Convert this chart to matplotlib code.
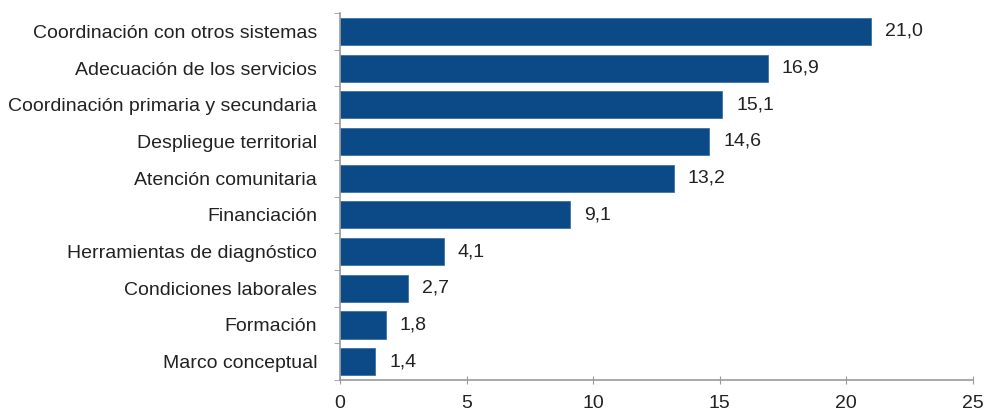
import matplotlib.pyplot as plt

plt.rcParams['font.family'] = ['Liberation Sans', 'DejaVu Sans']

categorias = ["Coordinación con otros sistemas", "Adecuación de los servicios",
              "Coordinación primaria y secundaria", "Despliegue territorial",
              "Atención comunitaria", "Financiación", "Herramientas de diagnóstico",
              "Condiciones laborales", "Formación", "Marco conceptual"]
valores = [21.0, 16.9, 15.1, 14.6, 13.2, 9.1, 4.1, 2.7, 1.8, 1.4]
xticks = [0, 5, 10, 15, 20, 25]

fig = plt.figure(figsize=(9.84, 4.09), dpi=100)
ax = fig.add_axes([0.3455, 0.071, 0.643, 0.897])

pos = list(range(len(categorias)))[::-1]
ax.barh(pos, valores, height=0.74, color='#0b4a86', edgecolor='#3a72a8', linewidth=0.6)

for p, v in zip(pos, valores):
    ax.text(v + 0.55, p, f"{v:.1f}".replace('.', ','), va='center', ha='left',
            fontsize=14, color='#222222')

ax.set_ylim(-0.5, len(categorias) - 0.5)
ax.set_xlim(0, 25)
ax.set_yticks(pos)
ax.set_yticklabels(categorias, fontsize=14, color='#222222')
ax.set_yticks([i - 0.5 for i in range(len(categorias) + 1)], minor=True)
ax.tick_params(axis='y', which='major', length=0, pad=16.5)
ax.tick_params(axis='y', which='minor', length=4, color='#999999')
ax.set_xticks(xticks)
ax.set_xticklabels([str(t) for t in xticks], fontsize=14, color='#222222')
ax.tick_params(axis='x', direction='inout', length=6, color='#999999', pad=8)

for s in ['top', 'right']:
    ax.spines[s].set_visible(False)
for s in ['left', 'bottom']:
    ax.spines[s].set_color('#999999')
    ax.spines[s].set_linewidth(1.2)

fig.savefig('out.png', dpi=100)
